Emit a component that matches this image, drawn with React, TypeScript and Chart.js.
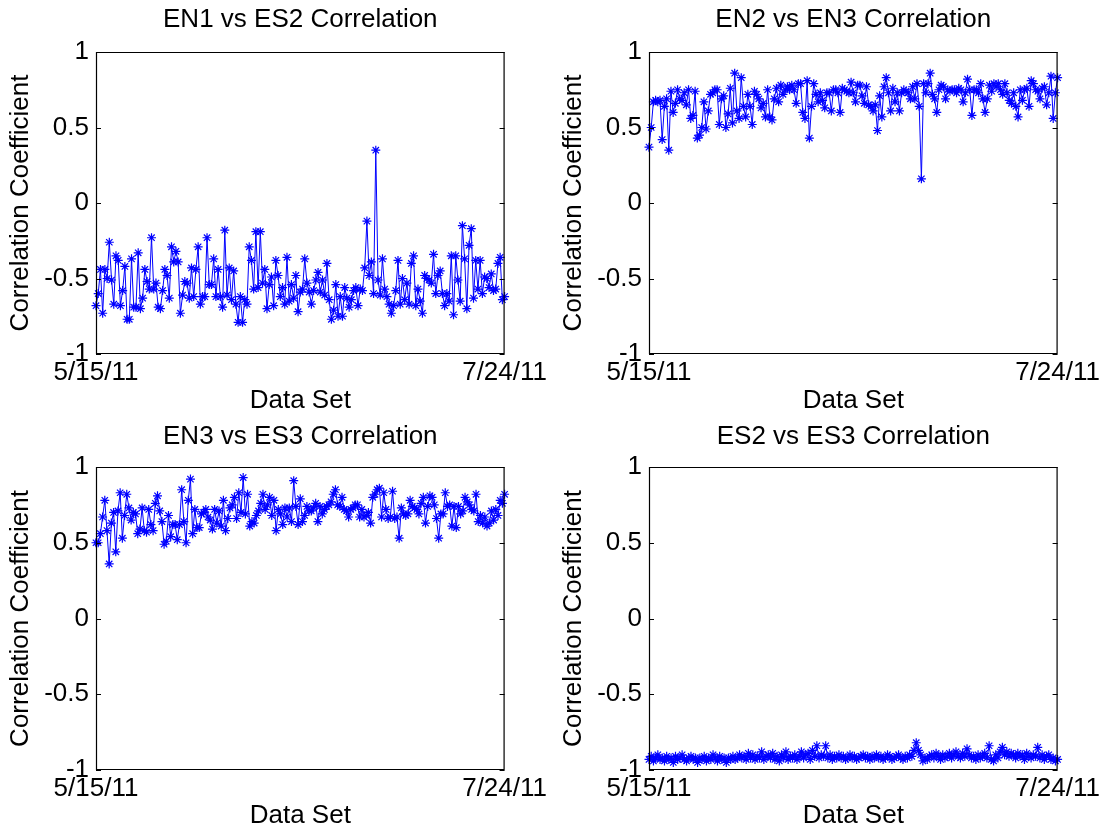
import React, { useEffect, useRef } from "react";
import { Chart, registerables } from "chart.js";

Chart.register(...registerables);

const FONT = "'Liberation Sans', Arial, Helvetica, sans-serif";

const xTickLabels = ["5/15/11", "7/24/11"];
const yTickValues = [-1, -0.5, 0, 0.5, 1];
const panelTitles = [
  "EN1 vs ES2 Correlation",
  "EN2 vs EN3 Correlation",
  "EN3 vs ES3 Correlation",
  "ES2 vs ES3 Correlation",
];
const xAxisTitle = "Data Set";
const yAxisTitle = "Correlation Coefficient";

const en1es2 = [
  -0.68, -0.6, -0.44, -0.73, -0.44, -0.5, -0.26, -0.51, -0.67, -0.35,
  -0.38, -0.68, -0.58, -0.42, -0.77, -0.77, -0.37, -0.69, -0.69, -0.33,
  -0.7, -0.63, -0.44, -0.52, -0.57, -0.23, -0.57, -0.53, -0.69, -0.7,
  -0.58, -0.44, -0.48, -0.63, -0.29, -0.39, -0.32, -0.39, -0.73, -0.61,
  -0.52, -0.53, -0.63, -0.43, -0.62, -0.44, -0.29, -0.67, -0.62, -0.62,
  -0.23, -0.54, -0.54, -0.37, -0.62, -0.44, -0.62, -0.69, -0.18, -0.61,
  -0.43, -0.64, -0.45, -0.67, -0.79, -0.62, -0.79, -0.64, -0.67, -0.29,
  -0.38, -0.57, -0.19, -0.56, -0.19, -0.53, -0.44, -0.7, -0.54, -0.49,
  -0.68, -0.38, -0.48, -0.62, -0.56, -0.67, -0.36, -0.65, -0.54, -0.63,
  -0.48, -0.72, -0.59,
  -0.57, -0.37, -0.53, -0.59, -0.67, -0.58, -0.51, -0.46, -0.59, -0.51,
  -0.61, -0.4, -0.64, -0.77, -0.71, -0.54, -0.75, -0.62, -0.75, -0.56,
  -0.63, -0.69, -0.64, -0.58, -0.56, -0.68, -0.57, -0.58, -0.43, -0.12,
  -0.48, -0.39, -0.6, 0.35, -0.51, -0.61, -0.37, -0.57, -0.62, -0.67,
  -0.73, -0.68, -0.58, -0.38, -0.67, -0.5, -0.64, -0.53, -0.67, -0.4,
  -0.35, -0.68, -0.57, -0.65, -0.73, -0.48, -0.5, -0.51, -0.53, -0.34,
  -0.6, -0.48, -0.45, -0.6, -0.68, -0.6, -0.65, -0.35, -0.74, -0.35,
  -0.51, -0.65, -0.15, -0.37, -0.7, -0.28, -0.17, -0.63, -0.38, -0.57,
  -0.38, -0.6, -0.49, -0.5, -0.56, -0.47, -0.58, -0.57, -0.4, -0.36,
  -0.64, -0.62,
];

const en2en3 = [
  0.37, 0.5, 0.67, 0.68, 0.67, 0.68, 0.42, 0.64, 0.69, 0.35,
  0.74, 0.6, 0.66, 0.75, 0.69, 0.68, 0.73, 0.65, 0.75, 0.56,
  0.58, 0.74, 0.43, 0.45, 0.5, 0.67, 0.49, 0.61, 0.72, 0.73,
  0.75, 0.75, 0.52, 0.69, 0.71, 0.5, 0.59, 0.76, 0.53, 0.86,
  0.61, 0.56, 0.83, 0.64, 0.57, 0.72, 0.64, 0.52, 0.74, 0.72,
  0.69, 0.63, 0.66, 0.57, 0.75, 0.57, 0.55, 0.69, 0.76, 0.67,
  0.78, 0.72, 0.75, 0.77, 0.75, 0.78, 0.75, 0.66, 0.79, 0.79,
  0.6, 0.56, 0.81, 0.43, 0.64, 0.79, 0.72, 0.67, 0.73, 0.68,
  0.63, 0.73, 0.73, 0.61, 0.75, 0.75, 0.73, 0.6, 0.76, 0.75,
  0.74, 0.73, 0.8,
  0.73, 0.67, 0.78, 0.78, 0.71, 0.66, 0.77, 0.65, 0.64, 0.61,
  0.65, 0.48, 0.71, 0.57, 0.77, 0.83, 0.73, 0.61, 0.76, 0.67,
  0.73, 0.61, 0.73, 0.75, 0.74, 0.73, 0.69, 0.77, 0.69, 0.79,
  0.64, 0.16, 0.79, 0.73, 0.79, 0.86, 0.72, 0.69, 0.6, 0.75,
  0.78, 0.77, 0.69, 0.75, 0.74, 0.75, 0.75, 0.73, 0.76, 0.75,
  0.67, 0.73, 0.82, 0.75, 0.58, 0.75, 0.75, 0.73, 0.79, 0.69,
  0.6, 0.69, 0.78, 0.74, 0.79, 0.77, 0.79, 0.75, 0.72, 0.79,
  0.73, 0.68, 0.66, 0.73, 0.64, 0.57, 0.75, 0.68, 0.75, 0.76,
  0.64, 0.81, 0.79, 0.75, 0.74, 0.69, 0.76, 0.77, 0.65, 0.73,
  0.84, 0.56, 0.73, 0.83,
];

const en3es3 = [
  0.5, 0.5, 0.56, 0.67, 0.78, 0.58, 0.36, 0.63, 0.7, 0.44,
  0.71, 0.83, 0.53, 0.68, 0.82, 0.73, 0.65, 0.7, 0.69, 0.56,
  0.59, 0.73, 0.58, 0.57, 0.72, 0.62, 0.58, 0.76, 0.81, 0.71,
  0.64, 0.49, 0.51, 0.68, 0.54, 0.62, 0.62, 0.52, 0.62, 0.85,
  0.64, 0.5, 0.78, 0.92, 0.56, 0.72, 0.6, 0.6, 0.69, 0.7,
  0.72, 0.67, 0.65, 0.59, 0.72, 0.63, 0.71, 0.61, 0.78, 0.58,
  0.66, 0.73, 0.75, 0.8, 0.66, 0.83, 0.7, 0.93, 0.69, 0.82,
  0.61, 0.64, 0.63, 0.68, 0.71, 0.76, 0.82, 0.72, 0.75, 0.8,
  0.68, 0.78, 0.58, 0.72, 0.69, 0.62, 0.73, 0.67, 0.73, 0.64,
  0.91, 0.74, 0.62, 0.79,
  0.64, 0.68, 0.74, 0.71, 0.71, 0.73, 0.76, 0.64, 0.74, 0.69,
  0.72, 0.74, 0.75, 0.77, 0.82, 0.85, 0.75, 0.74, 0.8, 0.72,
  0.71, 0.67, 0.72, 0.73, 0.75, 0.75, 0.67, 0.72, 0.67, 0.68,
  0.7, 0.63, 0.8, 0.82, 0.85, 0.86, 0.67, 0.83, 0.72, 0.66,
  0.67, 0.84, 0.66, 0.67, 0.53, 0.73, 0.69, 0.68, 0.69, 0.78,
  0.74, 0.73, 0.72, 0.69, 0.76, 0.8, 0.63, 0.74, 0.81, 0.8,
  0.75, 0.66, 0.53, 0.69, 0.69, 0.83, 0.74, 0.75, 0.61, 0.74,
  0.6, 0.74, 0.69, 0.71, 0.8, 0.77, 0.75, 0.72, 0.71, 0.82,
  0.64, 0.68, 0.63, 0.67, 0.61, 0.63, 0.71, 0.65, 0.72, 0.68,
  0.78, 0.76, 0.82,
];

const es2es3 = [
  -0.93, -0.91, -0.94, -0.92, -0.9, -0.93, -0.92, -0.94, -0.91, -0.93,
  -0.92, -0.95, -0.91, -0.93, -0.92, -0.9, -0.93, -0.94, -0.92, -0.91,
  -0.93, -0.92, -0.95, -0.92, -0.93, -0.91, -0.94, -0.92, -0.93, -0.9,
  -0.92, -0.94, -0.91, -0.93, -0.92, -0.95, -0.92, -0.93, -0.91, -0.93,
  -0.92, -0.9, -0.92, -0.91, -0.93, -0.89, -0.92, -0.9, -0.93, -0.91,
  -0.92, -0.88, -0.93, -0.91, -0.9, -0.92, -0.89, -0.93, -0.91, -0.94,
  -0.9, -0.92, -0.88, -0.93, -0.91, -0.92, -0.9, -0.93, -0.91, -0.88,
  -0.92, -0.9, -0.89, -0.93, -0.87, -0.91, -0.84, -0.92, -0.9, -0.91,
  -0.84, -0.92, -0.9, -0.93, -0.91, -0.92, -0.9, -0.92, -0.91, -0.93,
  -0.92, -0.9, -0.92, -0.91, -0.93, -0.92, -0.91, -0.9, -0.92, -0.91,
  -0.93, -0.91, -0.92, -0.9, -0.92, -0.91, -0.93, -0.92, -0.9, -0.91,
  -0.93, -0.92, -0.91, -0.9, -0.92, -0.93, -0.91, -0.92, -0.9, -0.91,
  -0.87, -0.82, -0.87, -0.9, -0.94, -0.92, -0.93, -0.91, -0.9, -0.92,
  -0.89, -0.91, -0.93, -0.9, -0.92, -0.91, -0.89, -0.92, -0.9, -0.88,
  -0.91, -0.92, -0.89, -0.91, -0.86, -0.9, -0.92, -0.91, -0.93, -0.9,
  -0.92, -0.91, -0.89, -0.92, -0.84, -0.93, -0.94, -0.9, -0.92, -0.88,
  -0.85, -0.9, -0.88, -0.91, -0.89, -0.9, -0.92, -0.89, -0.91, -0.9,
  -0.93, -0.89, -0.91, -0.92, -0.9, -0.91, -0.85, -0.92, -0.9, -0.93,
  -0.91, -0.9, -0.93, -0.92, -0.94, -0.93,
];

const panelSeries = [en1es2, en2en3, en3es3, es2es3];

const framePlugin = {
  id: "matlabFrame",
  afterDraw(chart: any) {
    const { ctx, chartArea } = chart;
    const { left, right, top, bottom } = chartArea;
    const y = chart.scales.y;
    ctx.save();
    ctx.strokeStyle = "#000";
    ctx.lineWidth = 1.2;
    ctx.beginPath();
    ctx.rect(left + 0.5, top + 0.5, right - left - 1, bottom - top - 1);
    ctx.stroke();
    ctx.beginPath();
    for (const v of yTickValues) {
      const py = Math.round(y.getPixelForValue(v)) + 0.5;
      ctx.moveTo(left, py);
      ctx.lineTo(left + 5, py);
      ctx.moveTo(right, py);
      ctx.lineTo(right - 5, py);
    }
    ctx.stroke();
    ctx.restore();
  },
};

type PanelProps = {
  title: string;
  values: number[];
  left: number;
  top: number;
  width: number;
  height: number;
  titlePadTop: number;
  titlePadBottom: number;
  xAxisHeight: number;
};

function Panel(p: PanelProps) {
  const ref = useRef<HTMLCanvasElement | null>(null);
  useEffect(() => {
    if (!ref.current) return;
    const n = p.values.length;
    const font = (size: number, lineHeight: number) => ({
      family: FONT,
      size,
      weight: "normal" as const,
      lineHeight,
    });
    const chart = new Chart(ref.current, {
      type: "line",
      data: {
        datasets: [
          {
            data: p.values.map((v, i) => ({ x: i, y: v })),
            borderColor: "#0000ff",
            backgroundColor: "#0000ff",
            borderWidth: 1,
            pointStyle: "star",
            pointRadius: 4.5,
            pointBorderWidth: 1.2,
            pointBorderColor: "#0000ff",
            pointBackgroundColor: "#0000ff",
            tension: 0,
            clip: false as any,
          },
        ],
      },
      options: {
        responsive: false,
        animation: false,
        devicePixelRatio: 1,
        layout: { padding: { left: 0, right: 48, top: 0, bottom: 0 } },
        plugins: {
          legend: { display: false },
          tooltip: { enabled: false },
          title: {
            display: true,
            text: p.title,
            color: "#000",
            fullSize: false,
            font: font(26, 1.2),
            padding: { top: p.titlePadTop, bottom: p.titlePadBottom },
          },
        },
        scales: {
          x: {
            type: "linear",
            min: 0,
            max: n - 1,
            grid: { display: false, drawTicks: false },
            border: { display: false },
            afterBuildTicks: (s: any) => {
              s.ticks = [{ value: 0 }, { value: n - 1 }];
            },
            afterFit: (s: any) => {
              s.height = p.xAxisHeight;
            },
            ticks: {
              autoSkip: false,
              maxRotation: 0,
              padding: 6,
              color: "#000",
              font: font(26, 1),
              callback: (v: any) => (v === 0 ? xTickLabels[0] : xTickLabels[1]),
            },
            title: {
              display: true,
              text: xAxisTitle,
              color: "#000",
              font: font(26, 1),
              padding: { top: 0, bottom: 0 },
            },
          },
          y: {
            type: "linear",
            min: -1,
            max: 1,
            grid: { display: false, drawTicks: false },
            border: { display: false },
            afterBuildTicks: (s: any) => {
              s.ticks = yTickValues.map((v) => ({ value: v }));
            },
            afterFit: (s: any) => {
              s.width = 96;
            },
            ticks: {
              padding: 7,
              color: "#000",
              font: font(26, 1),
              callback: (v: any) => String(v),
            },
            title: {
              display: true,
              text: yAxisTitle,
              color: "#000",
              font: font(26, 1),
              padding: { top: 8, bottom: 0 },
            },
          },
        },
      } as any,
      plugins: [framePlugin],
    });
    return () => chart.destroy();
  }, []);
  return (
    <canvas
      ref={ref}
      width={p.width}
      height={p.height}
      style={{ position: "absolute", left: p.left, top: p.top, width: p.width, height: p.height }}
    />
  );
}

export default function App() {
  return (
    <div
      style={{
        position: "fixed",
        left: 0,
        top: 0,
        width: 1106,
        height: 829,
        background: "#fff",
        overflow: "hidden",
      }}
    >
      <Panel title={panelTitles[0]} values={panelSeries[0]} left={0} top={0} width={553} height={414}
        titlePadTop={4.4} titlePadBottom={16.4} xAxisHeight={60} />
      <Panel title={panelTitles[1]} values={panelSeries[1]} left={553} top={0} width={553} height={414}
        titlePadTop={4.4} titlePadBottom={16.4} xAxisHeight={60} />
      <Panel title={panelTitles[2]} values={panelSeries[2]} left={0} top={414} width={553} height={415}
        titlePadTop={7.4} titlePadBottom={14.4} xAxisHeight={59} />
      <Panel title={panelTitles[3]} values={panelSeries[3]} left={553} top={414} width={553} height={415}
        titlePadTop={7.4} titlePadBottom={14.4} xAxisHeight={59} />
    </div>
  );
}
